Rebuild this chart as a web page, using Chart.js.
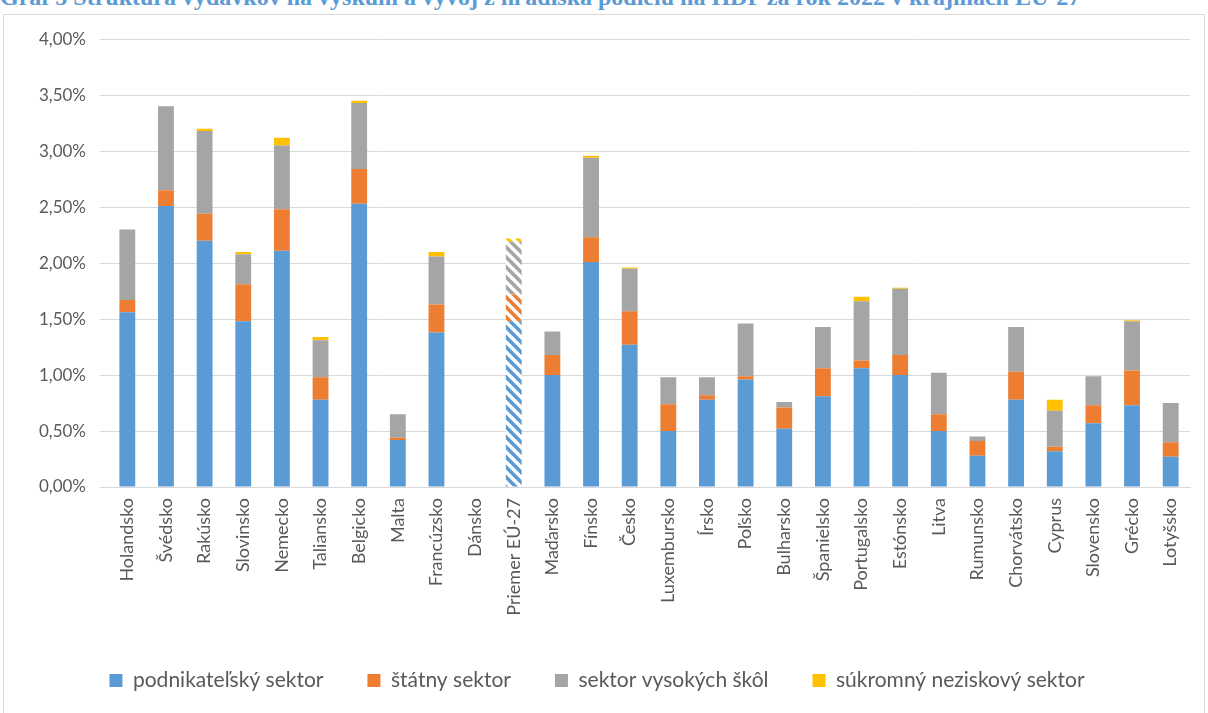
<!DOCTYPE html>
<html>
<head>
<meta charset="utf-8">
<script src="https://cdn.jsdelivr.net/npm/chart.js@4/dist/chart.umd.min.js"></script>
<style>
    html, body {
        margin: 0;
        padding: 0;
        background: #fff;
        overflow: hidden;
        width: 1208px;
        height: 713px;
    }
    .title {
        position: absolute;
        left: 0;
        top: -15px;
        font: bold 24px "Liberation Serif", serif;
        line-height: 24px;
        color: #5b9bd5;
        white-space: nowrap;
    }
    .frame {
        position: absolute;
        left: 3px;
        top: 14px;
        width: 1200px;
        height: 740px;
        border: 1px solid #d9d9d9;
    }
    .frame canvas {
        position: absolute;
        left: 0;
        top: 0;
    }
</style>
</head>
<body>
<div class="title">Graf 5 Štruktúra výdavkov na výskum a vývoj z hľadiska podielu na HDP za rok 2022 v krajinách EÚ-27</div>
<div class="frame">
    <canvas id="chart" width="1200" height="698"></canvas>
</div>
<script>
// data (% HDP)
const countries = [
    "Holandsko", "Švédsko", "Rakúsko", "Slovinsko", "Nemecko", "Taliansko", "Belgicko",
    "Malta", "Francúzsko", "Dánsko", "Priemer EÚ-27", "Maďarsko", "Fínsko", "Česko",
    "Luxembursko", "Írsko", "Poľsko", "Bulharsko", "Španielsko", "Portugalsko", "Estónsko",
    "Litva", "Rumunsko", "Chorvátsko", "Cyprus", "Slovensko", "Grécko", "Lotyšsko",
];
const business = [1.56, 2.51, 2.20, 1.48, 2.11, 0.78, 2.53, 0.42, 1.38, null, 1.48, 1.00, 2.01, 1.27,
    0.50, 0.78, 0.96, 0.52, 0.81, 1.06, 1.00, 0.50, 0.28, 0.78, 0.32, 0.57, 0.73, 0.27];
const government = [0.11, 0.14, 0.24, 0.33, 0.37, 0.20, 0.31, 0.02, 0.25, null, 0.24, 0.18, 0.22, 0.30,
    0.24, 0.04, 0.03, 0.19, 0.25, 0.07, 0.18, 0.15, 0.13, 0.25, 0.04, 0.16, 0.31, 0.13];
const higherEdu = [0.63, 0.75, 0.74, 0.27, 0.57, 0.33, 0.59, 0.21, 0.43, null, 0.47, 0.21, 0.71, 0.38,
    0.24, 0.16, 0.47, 0.05, 0.37, 0.53, 0.59, 0.37, 0.04, 0.40, 0.32, 0.26, 0.44, 0.35];
const privateNonProfit = [0, 0, 0.02, 0.02, 0.07, 0.03, 0.02, 0, 0.04, null, 0.03, 0, 0.02, 0.01,
    0, 0, 0, 0, 0, 0.04, 0.01, 0, 0, 0, 0.10, 0, 0.01, 0];
const seriesNames = ["podnikateľský sektor", "štátny sektor", "sektor vysokých škôl", "súkromný neziskový sektor"];
const yTicks = [0, 0.5, 1, 1.5, 2, 2.5, 3, 3.5, 4];

const colors = ["#5b9bd5", "#ed7d31", "#a5a5a5", "#ffc000"];
const avgIndex = countries.indexOf("Priemer EÚ-27");

// diagonal stripes (top-left to bottom-right) for the EU average bar
const stripes = (color) => {
    const size = 10;
    const c = document.createElement("canvas");
    c.width = size;
    c.height = size;
    const ctx = c.getContext("2d");
    ctx.fillStyle = "#fff";
    ctx.fillRect(0, 0, size, size);
    ctx.strokeStyle = color;
    ctx.lineWidth = 3.6;
    ctx.beginPath();
    for (let k = -1; k <= 1; k++) {
        ctx.moveTo(-1, k * size - 1);
        ctx.lineTo(size + 1, size + k * size + 1);
    }
    ctx.stroke();
    return ctx.createPattern(c, "repeat");
};

const fills = (color) => countries.map((c, i) => (i === avgIndex ? stripes(color) : color));

const series = [business, government, higherEdu, privateNonProfit];

new Chart(document.getElementById("chart"), {
    type: "bar",
    data: {
        labels: countries,
        datasets: series.map((d, i) => ({
            label: seriesNames[i],
            data: d,
            backgroundColor: fills(colors[i]),
            borderWidth: 0,
            categoryPercentage: 0.41,
            barPercentage: 1,
        })),
    },
    options: {
        responsive: false,
        animation: false,
        layout: {
            padding: { left: 0, right: 14, top: 23, bottom: 12 },
        },
        scales: {
            x: {
                stacked: true,
                grid: { display: false },
                border: { color: "#d9d9d9" },
                ticks: {
                    color: "#595959",
                    font: { family: "Lato", size: 18 },
                    minRotation: 90,
                    maxRotation: 90,
                    autoSkip: false,
                },
                afterFit: (scale) => {
                    scale.height = 139;
                },
            },
            y: {
                stacked: true,
                min: 0,
                max: 4,
                afterBuildTicks: (scale) => {
                    scale.ticks = yTicks.map((v) => ({ value: v }));
                },
                grid: { color: "#d9d9d9" },
                border: { display: false },
                ticks: {
                    color: "#595959",
                    font: { family: "Lato", size: 17 },
                    padding: 14,
                    callback: (v) => v.toFixed(2).replace(".", ",") + "%",
                },
                afterFit: (scale) => {
                    scale.width = 104;
                },
            },
        },
        plugins: {
            legend: {
                position: "bottom",
                labels: {
                    color: "#595959",
                    font: { family: "Lato", size: 21 },
                    boxWidth: 13,
                    boxHeight: 13,
                    padding: 44,
                },
            },
            tooltip: { enabled: false },
        },
    },
});
</script>
</body>
</html>
